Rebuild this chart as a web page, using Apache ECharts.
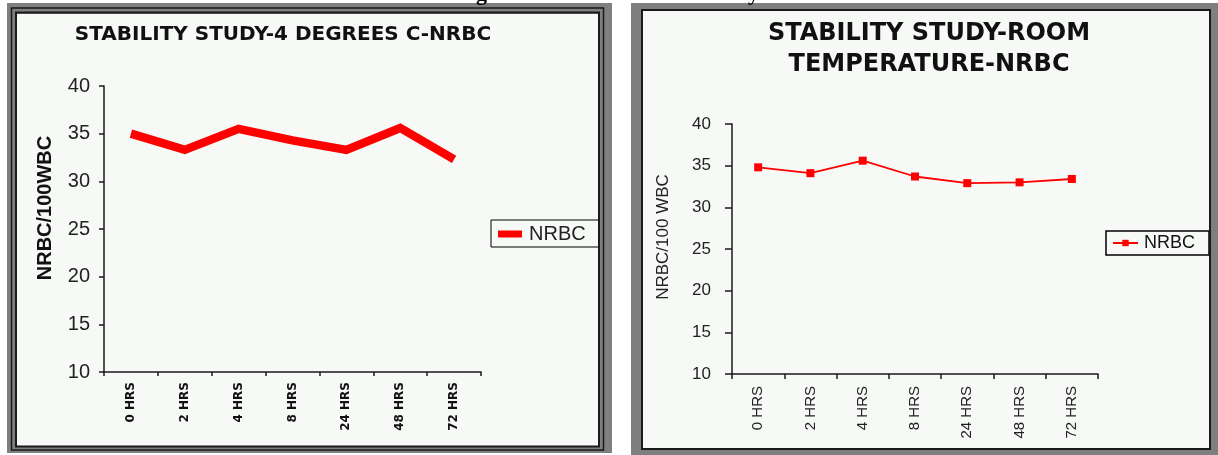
<!DOCTYPE html>
<html>
<head>
<meta charset="utf-8">
<script src="https://cdn.jsdelivr.net/npm/echarts@6/dist/echarts.min.js"></script>
<style>
html,body{margin:0;padding:0;background:#fff;}
#c{width:1218px;height:455px;}
</style>
</head>
<body>
<div id="c"></div>
<script>
const categoriesLeft = ['0 HRS', '2 HRS', '4 HRS', '8 HRS', '24 HRS', '48 HRS', '72 HRS'];
const categoriesRight = ['0 HRS', '2 HRS', '4 HRS', '8 HRS', '24 HRS', '48 HRS', '72 HRS'];
const nrbc4Degrees = [35.0, 33.3, 35.5, 34.3, 33.3, 35.6, 32.3];
const nrbcRoomTemp = [34.8, 34.1, 35.6, 33.7, 32.9, 33.0, 33.4];
const titleLeft = 'STABILITY STUDY-4 DEGREES C-NRBC';
const titleRight = 'STABILITY STUDY-ROOM\nTEMPERATURE-NRBC';
const yNameLeft = 'NRBC/100WBC';
const yNameRight = 'NRBC/100 WBC';
const seriesName = 'NRBC';

const chart = echarts.init(document.getElementById('c'), null, {renderer: 'canvas'});
const dark = '#1a1a1a';
const panelBg = '#f6f9f6';
const frameGray = '#7f7f7f';

const option = {
  backgroundColor: '#ffffff',
  animation: false,
  title: [
    {text: titleLeft, left: 283, top: 25, textAlign: 'center', padding: 0,
     textStyle: {fontFamily: 'DejaVu Sans', fontWeight: 'bold', fontSize: 20, color: '#111'}},
    {text: titleRight, left: 929, top: 18, textAlign: 'center', padding: 0,
     textStyle: {fontFamily: 'DejaVu Sans', fontWeight: 'bold', fontSize: 24, lineHeight: 31, color: '#111'}}
  ],
  legend: [
    {data: [{name: seriesName, icon: 'rect'}], left: 491, top: 220,
     orient: 'vertical', itemWidth: 24, itemHeight: 7, itemGap: 0,
     borderColor: '#000', borderWidth: 1, padding: [4, 13, 3, 7], selectedMode: false,
     textStyle: {fontFamily: 'Liberation Sans', fontSize: 20, color: '#222', padding: [0, 0, 0, 2]}},
    {data: [{name: seriesName + ' '}], left: 1106, top: 231, orient: 'vertical',
     itemWidth: 25, itemHeight: 8, itemGap: 0,
     borderColor: '#000', borderWidth: 1.5, padding: [3, 9, 3, 6], selectedMode: false,
     textStyle: {fontFamily: 'Liberation Sans', fontSize: 18, color: '#111', padding: [0, 0, 0, 1]}}
  ],
  grid: [
    {left: 104, top: 86, width: 377, height: 286},
    {left: 732, top: 124, width: 366, height: 250}
  ],
  xAxis: [
    {type: 'category', gridIndex: 0, data: categoriesLeft, boundaryGap: true,
     axisLine: {lineStyle: {color: dark, width: 1.5}},
     axisTick: {show: true, length: 4, lineStyle: {color: dark, width: 1.5}},
     axisLabel: {rotate: 90, margin: 10, fontFamily: 'DejaVu Sans', fontWeight: 'bold', fontSize: 12, color: '#111'}},
    {type: 'category', gridIndex: 1, data: categoriesRight, boundaryGap: true,
     axisLine: {lineStyle: {color: dark, width: 1.5}},
     axisTick: {show: true, length: 5, lineStyle: {color: dark, width: 1.5}},
     axisLabel: {rotate: 90, margin: 12, fontFamily: 'Liberation Sans', fontSize: 15, color: '#222'}}
  ],
  yAxis: [
    {type: 'value', gridIndex: 0, min: 10, max: 40, interval: 5,
     axisLine: {show: true, lineStyle: {color: dark, width: 1.5}},
     axisTick: {show: true, length: 5, lineStyle: {color: dark, width: 1.5}},
     splitLine: {show: false},
     axisLabel: {margin: 14, fontFamily: 'Liberation Sans', fontSize: 20, color: '#222'}},
    {type: 'value', gridIndex: 1, min: 10, max: 40, interval: 5,
     axisLine: {show: true, lineStyle: {color: dark, width: 1.5}},
     axisTick: {show: true, length: 7, lineStyle: {color: dark, width: 1.5}},
     splitLine: {show: false},
     axisLabel: {margin: 21, fontFamily: 'Liberation Sans', fontSize: 17, color: '#222'}}
  ],
  series: [
    {name: seriesName, type: 'line', xAxisIndex: 0, yAxisIndex: 0, data: nrbc4Degrees,
     symbol: 'none', color: '#ff0000', lineStyle: {width: 8.5, color: '#ff0000', join: 'miter'}},
    {name: seriesName + ' ', type: 'line', xAxisIndex: 1, yAxisIndex: 1, data: nrbcRoomTemp,
     symbol: 'rect', symbolSize: 8, color: '#ff0000',
     itemStyle: {color: '#ff0000'}, lineStyle: {width: 1.8, color: '#ff0000'}}
  ],
  graphic: [
    {type: 'rect', z: -10, shape: {x: 7, y: 3, width: 605, height: 450}, style: {fill: frameGray}},
    {type: 'rect', z: -9, shape: {x: 17, y: 14, width: 582, height: 432}, style: {fill: panelBg}},
    {type: 'rect', z: -8, shape: {x: 11.5, y: 8, width: 592, height: 442}, style: {fill: null, stroke: '#1a1a1a', lineWidth: 1.5}},
    {type: 'rect', z: 100, shape: {x: 16, y: 12.5, width: 583, height: 434}, style: {fill: null, stroke: '#1a1a1a', lineWidth: 2}},
    {type: 'rect', z: -10, shape: {x: 631, y: 3, width: 587, height: 452}, style: {fill: frameGray}},
    {type: 'rect', z: -9, shape: {x: 642, y: 10, width: 568, height: 439}, style: {fill: panelBg}},
    {type: 'rect', z: 100, shape: {x: 642, y: 10, width: 568, height: 439}, style: {fill: null, stroke: '#1a1a1a', lineWidth: 2}},
    {type: 'text', x: 45, y: 208, rotation: Math.PI / 2,
     style: {text: yNameLeft, align: 'center', verticalAlign: 'middle', fontFamily: 'Liberation Sans', fontWeight: 'bold', fontSize: 20, fill: '#111'}},
    {type: 'text', x: 663, y: 237, rotation: Math.PI / 2,
     style: {text: yNameRight, align: 'center', verticalAlign: 'middle', fontFamily: 'Liberation Sans', fontSize: 17, fill: '#222'}},
    {type: 'text', x: 476, y: -17, style: {text: 'g', fontFamily: 'Liberation Serif', fontWeight: 'bold', fontSize: 22, fill: '#000'}},
    {type: 'text', x: 748, y: -17, style: {text: 'y', fontFamily: 'Liberation Serif', fontWeight: 'bold', fontSize: 22, fill: '#000'}}
  ]
};
chart.setOption(option);
</script>
</body>
</html>
